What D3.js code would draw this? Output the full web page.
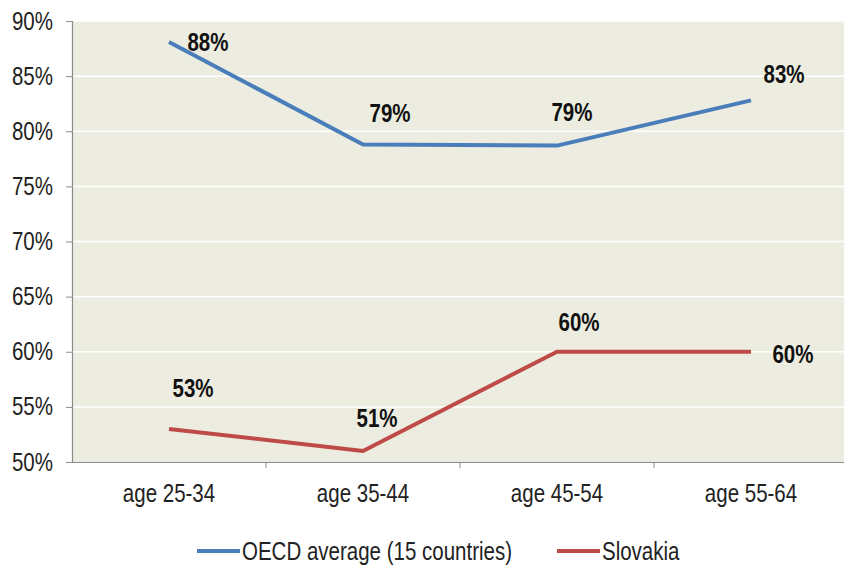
<!DOCTYPE html>
<html>
<head>
<meta charset="utf-8">
<script src="https://cdn.jsdelivr.net/npm/d3@7"></script>
<style>
  html, body { margin: 0; padding: 0; background: #ffffff; }
  svg { display: block; }
  text { font-family: "Liberation Sans", Arial, sans-serif; }
</style>
</head>
<body>
<svg id="chart" width="844" height="565"></svg>
<script>
// Share of adults by age group (OECD average vs Slovakia)
const categories = ["age 25-34", "age 35-44", "age 45-54", "age 55-64"];
const oecdValues = [0.881, 0.788, 0.787, 0.828];
const slovakiaValues = [0.530, 0.510, 0.600, 0.600];
const seriesNames = ["OECD average (15 countries)", "Slovakia"];
const yTicks = [0.50, 0.55, 0.60, 0.65, 0.70, 0.75, 0.80, 0.85, 0.90];

const colors = ["#4a7ebb", "#be4b48"];
// label placement relative to each point: [dx, dy]
const labelOffsets = [
  [[39, 0], [27, -31], [15, -33], [33, -26]],
  [[24, -41], [14, -33], [22, -29], [42, 3]]
];

// condensed lettering: horizontally squeeze text while keeping its anchor point
const NARROW = 0.82;
function narrow(sel) {
  sel.each(function () {
    const t = d3.select(this);
    const xv = +(t.attr("x") || 0);
    t.attr("x", xv / NARROW)
     .attr("transform", `scale(${NARROW},1)`);
  });
}

const svg = d3.select("#chart");
const x0 = 72, x1 = 848, y0 = 462, y1 = 21;

const x = d3.scaleBand().domain(categories).range([x0, x1]);
const y = d3.scaleLinear().domain([0.5, 0.9]).range([y0, y1]);

// plot background
svg.append("rect")
  .attr("x", x0).attr("y", y1)
  .attr("width", 844 - x0).attr("height", y0 - y1)
  .attr("fill", "#ecede0");

// horizontal gridlines
svg.append("g")
  .selectAll("line")
  .data(yTicks.slice(1))
  .join("line")
  .attr("x1", x0).attr("x2", 844)
  .attr("y1", d => y(d)).attr("y2", d => y(d))
  .attr("stroke", "#ffffff").attr("stroke-width", 1.5);

// y axis
const yAxis = d3.axisLeft(y).tickValues(yTicks).tickFormat(d3.format(".0%"))
  .tickSize(6).tickPadding(13);
const gy = svg.append("g").attr("transform", `translate(${x0},0)`).call(yAxis);
gy.select(".domain").attr("stroke", "#8c8c8c").attr("stroke-width", 1.2);
gy.selectAll(".tick line").attr("stroke", "#8c8c8c");
gy.selectAll(".tick text")
  .attr("font-size", 25).attr("fill", "#222").attr("font-family", null)
  .call(narrow);

// x axis
const xAxis = d3.axisBottom(x).tickSize(0).tickPadding(22);
const gx = svg.append("g").attr("transform", `translate(0,${y0})`).call(xAxis);
gx.select(".domain").attr("stroke", "#8c8c8c").attr("stroke-width", 1.2);
gx.selectAll(".tick text")
  .attr("font-size", 25).attr("fill", "#222").attr("font-family", null)
  .call(narrow);
// category boundary ticks
gx.append("g")
  .selectAll("line")
  .data(categories.slice(1))
  .join("line")
  .attr("x1", d => x(d)).attr("x2", d => x(d))
  .attr("y1", 0).attr("y2", 6)
  .attr("stroke", "#8c8c8c");

const series = [oecdValues, slovakiaValues];
const line = d3.line()
  .x((d, i) => x(categories[i]) + x.bandwidth() / 2)
  .y(d => y(d));

series.forEach((vals, s) => {
  svg.append("path")
    .datum(vals)
    .attr("d", line)
    .attr("fill", "none")
    .attr("stroke", colors[s])
    .attr("stroke-width", 4)
    .attr("stroke-linejoin", "round");

  svg.append("g")
    .selectAll("text")
    .data(vals)
    .join("text")
    .attr("x", (d, i) => x(categories[i]) + x.bandwidth() / 2 + labelOffsets[s][i][0])
    .attr("y", (d, i) => y(d) + labelOffsets[s][i][1])
    .attr("text-anchor", "middle")
    .attr("dominant-baseline", "central")
    .attr("font-size", 25)
    .attr("font-weight", "bold")
    .attr("fill", "#111")
    .text(d => d3.format(".0%")(d))
    .call(narrow);
});

// legend
const legendItems = [
  { name: seriesNames[0], color: colors[0], x: 197 },
  { name: seriesNames[1], color: colors[1], x: 557 }
];
const lg = svg.append("g").attr("transform", "translate(0,551)");
legendItems.forEach(it => {
  lg.append("line")
    .attr("x1", it.x).attr("x2", it.x + 43)
    .attr("y1", 0).attr("y2", 0)
    .attr("stroke", it.color).attr("stroke-width", 4);
  lg.append("text")
    .attr("x", it.x + 45).attr("y", 0)
    .attr("dominant-baseline", "central")
    .attr("font-size", 25).attr("fill", "#222")
    .text(it.name)
    .call(narrow);
});
</script>
</body>
</html>
